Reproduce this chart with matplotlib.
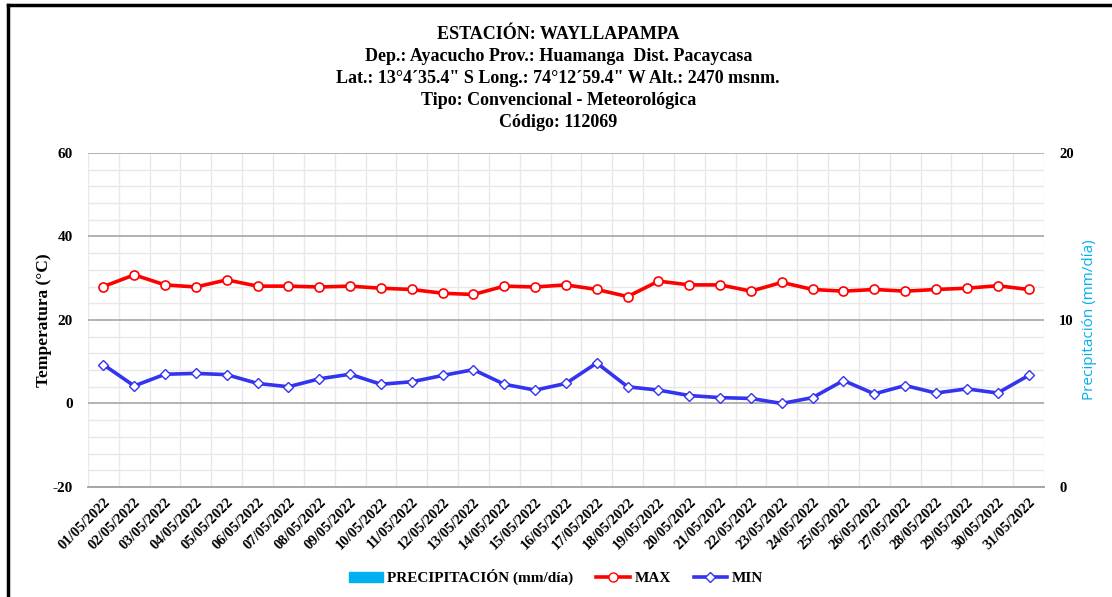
import matplotlib.pyplot as plt
from matplotlib.lines import Line2D
from matplotlib.patches import Patch
import numpy as np

plt.rcParams["axes.unicode_minus"] = False

dates = ["%02d/05/2022" % d for d in range(1, 32)]
t_max = [28.0, 30.8, 28.4, 27.9, 29.6, 28.1, 28.1, 27.9, 28.1, 27.6, 27.3, 26.4, 26.1,
         28.1, 27.9, 28.4, 27.3, 25.6, 29.3, 28.4, 28.4, 26.9, 29.0, 27.3, 26.9, 27.3,
         26.9, 27.3, 27.6, 28.2, 27.3]
t_min = [9.3, 4.2, 7.0, 7.2, 6.9, 4.8, 4.0, 5.9, 7.0, 4.6, 5.2, 6.7, 8.1, 4.6, 3.2,
         4.8, 9.7, 4.0, 3.2, 1.9, 1.4, 1.2, 0.0, 1.4, 5.5, 2.3, 4.3, 2.5, 3.5, 2.5, 6.7]
precip = [0.0] * 31

title_lines = ["ESTACIÓN: WAYLLAPAMPA",
               "Dep.: Ayacucho Prov.: Huamanga  Dist. Pacaycasa",
               "Lat.: 13°4\u00b435.4\" S Long.: 74°12\u00b459.4\" W Alt.: 2470 msnm.",
               "Tipo: Convencional - Meteorológica",
               "Código: 112069"]

serif = "Liberation Serif"
c_max = "#FF0000"
c_min = "#3333F0"
c_pp = "#00B0F0"

fig = plt.figure(figsize=(11.12, 5.97), dpi=100)
ax = fig.add_axes([0.0791, 0.1843, 0.8597, 0.5595])
ax2 = ax.twinx()

x = np.arange(len(dates))

# precipitation bars (all zero) on right axis
ax2.bar(x, precip, width=0.6, color=c_pp)
ax2.set_ylim(0, 20)
ax2.set_yticks([0, 10, 20])
ax2.set_ylabel("Precipitación (mm/día)", color=c_pp, fontsize=11, family="Open Sans", labelpad=6)
for lab in ax2.get_yticklabels():
    lab.set_fontweight("bold")
    lab.set_fontsize(10.5)
    lab.set_family(serif)
ax2.tick_params(axis="y", length=0, pad=11)

ax.set_zorder(ax2.get_zorder() + 1)
ax.patch.set_visible(False)

ax.plot(x, t_max, color=c_max, lw=2.6, marker="o", ms=6.5, mfc="white", mec=c_max, mew=1.2, zorder=5)
ax.plot(x, t_min, color=c_min, lw=2.6, marker="D", ms=5, mfc="white", mec=c_min, mew=1.0, zorder=5)

ax.set_xlim(-0.5, len(dates) - 0.5)
ax.set_ylim(-20, 60)
ax.set_yticks([-20, 0, 20, 40, 60])
ax.set_yticks(np.arange(-20, 61, 4), minor=True)
ax.set_xticks(x)
ax.set_xticks(np.arange(-0.5, len(dates), 1), minor=True)
ax.set_xticklabels(dates, rotation=45, ha="right", va="top", rotation_mode="anchor",
                   fontsize=10.5, fontweight="bold", family=serif)
for lab in ax.get_yticklabels():
    lab.set_fontweight("bold")
    lab.set_fontsize(11)
    lab.set_family(serif)
ax.tick_params(axis="both", which="both", length=0)
ax.tick_params(axis="y", pad=11)
ax.tick_params(axis="x", pad=6)

ax.grid(True, which="minor", color="#E8E8E8", lw=1.0)
ax.grid(True, which="major", axis="y", color="#A6A6A6", lw=1.2)
ax.set_axisbelow(True)
for a in (ax, ax2):
    for s in a.spines.values():
        s.set_visible(False)
    a.spines["bottom"].set_visible(True)
    a.spines["bottom"].set_color("#A6A6A6")
    a.spines["bottom"].set_linewidth(1.2)

ax.set_ylabel("Temperatura (°C)", fontsize=12.5, fontweight="bold", family=serif)
ax.yaxis.set_label_coords(-0.038, 0.5)

# title block
ys = [0.943, 0.906, 0.869, 0.832, 0.794]
for line, yy in zip(title_lines, ys):
    fig.text(0.502, yy, line, ha="center", va="center", fontsize=13,
             fontweight="bold", family=serif)

# legend
handles = [Patch(color=c_pp),
           Line2D([], [], color=c_max, lw=2.6, marker="o", ms=6.5, mfc="white", mec=c_max),
           Line2D([], [], color=c_min, lw=2.6, marker="D", ms=5, mfc="white", mec=c_min)]
labels = ["PRECIPITACIÓN (mm/día)", "MAX", "MIN"]
fig.legend(handles, labels, loc="center", bbox_to_anchor=(0.5, 0.033), ncol=3, frameon=False,
           prop={"family": serif, "weight": "bold", "size": 11}, handlelength=2.2,
           handletextpad=0.3, columnspacing=1.5)

# outer frame (left and top edges)
fig.add_artist(Line2D([0.0068, 0.0068], [0, 0.992], transform=fig.transFigure, color="black", lw=2.5))
fig.add_artist(Line2D([0.0068, 1.0], [0.992, 0.992], transform=fig.transFigure, color="black", lw=2.5))

fig.savefig("out.png", dpi=100)
